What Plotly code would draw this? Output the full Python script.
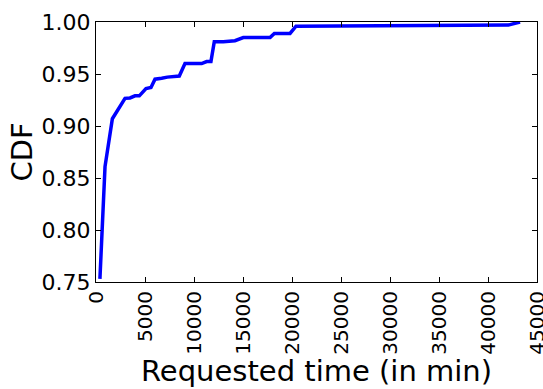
import plotly.graph_objects as go

requested_time = [400, 920, 1670, 2960, 3470, 3980, 4420, 5100, 5610, 6020, 6700, 7280, 8500,
                  9080, 10780, 11290, 11730, 12070, 12990, 14180, 15030, 17760, 18200, 19800,
                  20410, 30000, 42070, 43270]
cdf = [0.753, 0.861, 0.907, 0.9266, 0.927, 0.929, 0.929, 0.936, 0.937, 0.945, 0.946, 0.947, 0.948,
       0.960, 0.960, 0.962, 0.962, 0.981, 0.981, 0.982, 0.985, 0.985, 0.989, 0.989,
       0.996, 0.9965, 0.997, 1.0]

x_ticks = [0, 5000, 10000, 15000, 20000, 25000, 30000, 35000, 40000, 45000]
y_ticks = [0.75, 0.80, 0.85, 0.90, 0.95, 1.00]
x_title = "Requested time (in min)"
y_title = "CDF"

W, H = 543, 389
ML, MR, MT, MB = 96, 6, 22, 107
PW, PH = W - ML - MR, H - MT - MB

fig = go.Figure(go.Scatter(x=requested_time, y=cdf, mode="lines",
                           line=dict(color="#0000ff", width=3.5), showlegend=False))

axis_common = dict(showline=True, linecolor="black", linewidth=1, mirror="ticks",
                   ticks="inside", ticklen=5, tickcolor="black", showgrid=False,
                   zeroline=False, ticklabeloverflow="allow", automargin=False)

fig.update_xaxes(range=[0, 45000.5], tickvals=x_ticks, ticktext=[str(v) for v in x_ticks],
                 tickangle=-90, tickfont=dict(size=20, color="black"), **axis_common)
fig.update_yaxes(range=[0.75, 1.0], tickvals=y_ticks, ticktext=[f"{v:.2f}" for v in y_ticks],
                 tickfont=dict(size=22, color="black"), **axis_common)

fig.add_annotation(text=x_title, xref="paper", yref="paper", x=0.5, y=-(MB + 1) / PH,
                   xanchor="center", yanchor="bottom", showarrow=False,
                   font=dict(size=29, color="black"))
fig.add_annotation(text=y_title, xref="paper", yref="paper", x=(21.5 - ML) / PW, y=0.5,
                   xanchor="center", yanchor="middle", textangle=-90, showarrow=False,
                   font=dict(size=29, color="black"))

fig.update_layout(width=W, height=H, margin=dict(l=ML, r=MR, t=MT, b=MB),
                  plot_bgcolor="white", paper_bgcolor="white",
                  font=dict(family="DejaVu Sans", color="black"))

fig.write_html("out.html")
